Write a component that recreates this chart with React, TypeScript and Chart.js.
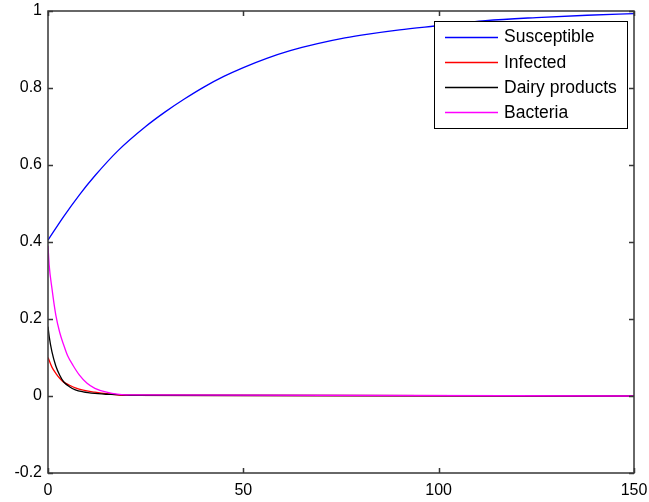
import React, { useEffect, useRef } from "react";
import { Chart, registerables } from "chart.js";

Chart.register(...registerables);

// ---- data ----
const seriesLabels = ["Susceptible", "Infected", "Dairy products", "Bacteria"];
const seriesColors = ["#0000FF", "#FF0000", "#000000", "#FF00FF"];

const susceptibleT = [0, 4, 8, 12, 18, 25, 30, 35, 40, 45, 50, 56, 62, 69, 76, 82, 90, 99, 112, 125, 138, 150];
const susceptibleV = [0.405, 0.466, 0.522, 0.572, 0.638, 0.7, 0.738, 0.772, 0.803, 0.83, 0.853, 0.877, 0.897, 0.915, 0.93, 0.94, 0.951, 0.961, 0.975, 0.983, 0.989, 0.993];

const infectedT = [0, 1, 2, 3, 4, 5.5, 7, 9, 12, 15, 20, 150];
const infectedV = [0.1, 0.075, 0.059, 0.046, 0.036, 0.028, 0.021, 0.015, 0.01, 0.006, 0.002, 0];

const dairyT = [0, 0.3, 1, 2, 3, 4, 5.5, 7, 9, 12, 16, 21, 150];
const dairyV = [0.18, 0.155, 0.115, 0.078, 0.054, 0.037, 0.024, 0.016, 0.011, 0.007, 0.004, 0.002, 0];

const bacteriaT = [0, 0.3, 1, 2, 3, 4, 5, 6.5, 8, 10, 12, 15, 20, 150];
const bacteriaV = [0.39, 0.34, 0.28, 0.21, 0.165, 0.133, 0.105, 0.078, 0.055, 0.033, 0.02, 0.01, 0.003, 0];

const xTicks = [0, 50, 100, 150];
const yTicks = [-0.2, 0, 0.2, 0.4, 0.6, 0.8, 1];

const toPoints = (t: number[], v: number[]) => t.map((x, i) => ({ x, y: v[i] }));

const FONT = "'Liberation Sans', Arial, sans-serif";

const boxPlugin = {
  id: "matlabBox",
  afterDatasetsDraw(chart: any) {
    const { ctx, chartArea } = chart;
    const { left, right, top, bottom } = chartArea;
    const xs = chart.scales.x;
    const ys = chart.scales.y;
    ctx.save();
    ctx.strokeStyle = "#363636";
    ctx.lineWidth = 1.5;
    ctx.strokeRect(left, top, right - left, bottom - top);
    ctx.beginPath();
    const tl = 5;
    xTicks.forEach((v) => {
      const px = Math.round(xs.getPixelForValue(v)) + 0.5;
      ctx.moveTo(px, bottom);
      ctx.lineTo(px, bottom - tl);
      ctx.moveTo(px, top);
      ctx.lineTo(px, top + tl);
    });
    yTicks.forEach((v) => {
      const py = Math.round(ys.getPixelForValue(v)) + 0.5;
      ctx.moveTo(left, py);
      ctx.lineTo(left + tl, py);
      ctx.moveTo(right, py);
      ctx.lineTo(right - tl, py);
    });
    ctx.stroke();

    // legend
    const lx = 434.5, ly = 21.5, lw = 193, lh = 107;
    ctx.fillStyle = "#ffffff";
    ctx.fillRect(lx, ly, lw, lh);
    ctx.strokeStyle = "#000000";
    ctx.lineWidth = 1;
    ctx.strokeRect(lx, ly, lw, lh);
    ctx.font = `17.5px ${FONT}`;
    ctx.textBaseline = "middle";
    ctx.textAlign = "left";
    for (let i = 0; i < seriesLabels.length; i++) {
      const y = 36.5 + i * 25.2;
      ctx.beginPath();
      ctx.strokeStyle = seriesColors[i];
      ctx.lineWidth = 1.4;
      ctx.moveTo(445, Math.round(y) + 0.5);
      ctx.lineTo(498, Math.round(y) + 0.5);
      ctx.stroke();
      ctx.fillStyle = "#000000";
      ctx.fillText(seriesLabels[i], 504, y + 1);
    }
    ctx.restore();
  },
};

export default function App() {
  const ref = useRef<HTMLCanvasElement | null>(null);
  useEffect(() => {
    document.body.style.margin = "0";
    const canvas = ref.current;
    if (!canvas) return;
    const tSeries = [susceptibleT, infectedT, dairyT, bacteriaT];
    const vSeries = [susceptibleV, infectedV, dairyV, bacteriaV];
    const chart = new Chart(canvas, {
      type: "line",
      data: {
        datasets: seriesLabels.map((label, i) => ({
          label,
          data: toPoints(tSeries[i], vSeries[i]),
          borderColor: seriesColors[i],
          backgroundColor: seriesColors[i],
          borderWidth: 1.3,
          pointRadius: 0,
          fill: false,
          cubicInterpolationMode: "monotone" as const,
          order: 4 - i,
        })),
      },
      options: {
        responsive: false,
        animation: false,
        layout: { padding: { top: 11, right: 15, left: 0, bottom: 0 } },
        plugins: {
          legend: { display: false },
          tooltip: { enabled: false },
        },
        scales: {
          x: {
            type: "linear",
            min: 0,
            max: 150,
            afterBuildTicks: (s: any) => {
              s.ticks = xTicks.map((v) => ({ value: v }));
            },
            ticks: {
              font: { family: FONT, size: 16 },
              color: "#000",
              padding: 8,
              maxRotation: 0,
              autoSkip: false,
            },
            grid: { display: false, drawTicks: false },
            border: { display: false },
            afterFit: (s: any) => {
              s.height = 29;
              s.paddingLeft = 0;
              s.paddingRight = 0;
            },
          },
          y: {
            type: "linear",
            min: -0.2,
            max: 1,
            afterBuildTicks: (s: any) => {
              s.ticks = yTicks.map((v) => ({ value: v }));
            },
            ticks: {
              font: { family: FONT, size: 16 },
              color: "#000",
              padding: 6,
              autoSkip: false,
              callback: (v: any) => String(Math.round(Number(v) * 10) / 10),
            },
            grid: { display: false, drawTicks: false },
            border: { display: false },
            afterFit: (s: any) => {
              s.width = 48;
              s.paddingTop = 0;
              s.paddingBottom = 0;
            },
          },
        },
      },
      plugins: [boxPlugin],
    });
    return () => chart.destroy();
  }, []);
  return <canvas ref={ref} width={649} height={502} style={{ display: "block" }} />;
}
